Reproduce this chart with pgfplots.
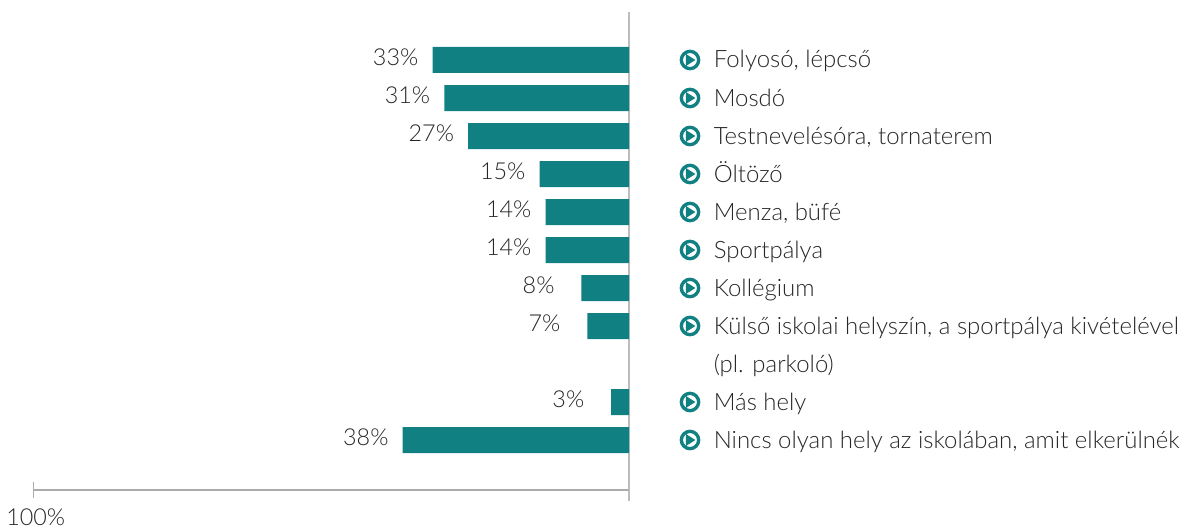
\documentclass[border=0pt]{standalone}
\usepackage{fontspec}
\setmainfont{Lato Light}
\usepackage{pgfplots}
\pgfplotsset{compat=1.18}
\definecolor{teal1}{HTML}{108083}
\definecolor{axg}{HTML}{ABABAB}
\definecolor{axv}{HTML}{BDBDBD}
\definecolor{txt}{HTML}{262626}
\pgfdeclareplotmark{playicon}{%
  \pgfsetfillcolor{white}\pgfsetstrokecolor{teal1}\pgfsetlinewidth{2.5pt}%
  \pgfpathcircle{\pgfpointorigin}{6.5pt}\pgfusepath{stroke,fill}%
  \pgfsetfillcolor{teal1}\pgfsetlinewidth{0pt}%
  \pgfpathmoveto{\pgfpoint{-3.0pt}{-4.5pt}}%
  \pgfpathlineto{\pgfpoint{4.0pt}{0pt}}%
  \pgfpathlineto{\pgfpoint{-3.0pt}{4.5pt}}%
  \pgfpathclose\pgfusepath{fill}%
}
\begin{document}
\begin{tikzpicture}
\useasboundingbox (0,0) rectangle (888pt,397.5pt);
\begin{axis}[
  at={(0,0)},anchor=south west,
  scale only axis,width=888pt,height=397.5pt,
  xmin=-105.63,xmax=93.2,
  ymin=-1.579,ymax=12.368,y dir=reverse,
  axis line style={draw=none},tick style={draw=none},
  xtick=\empty,ytick=\empty,clip=false,
  /pgf/number format/assume math mode=true,
  every node near coord/.append style={font=\fontsize{17.5pt}{20pt}\selectfont,text=txt,anchor=base east,xshift=-10.5pt,yshift=-4.4pt,inner sep=0pt},
]
% axes
\addplot[axv,line width=1.4pt,forget plot] coordinates {(0,-1.263) (0,11.605)};
\addplot[axg,line width=0.8pt,forget plot] coordinates {(-100,11.316) (0,11.316)};
\addplot[axg,line width=0.8pt,forget plot] coordinates {(-100,11.105) (-100,11.526)};
% bars with two-digit values
\addplot[xbar,bar shift=0pt,bar width=19.5pt,fill=teal1,draw=none,forget plot,
  point meta=-x,nodes near coords={\pgfmathprintnumber{\pgfplotspointmeta}\%}] coordinates {
 (-33,0) (-31,1) (-27,2) (-15,3) (-14,4) (-14,5) (-38,10)};
% bars with one-digit values: their labels stand further from the bar
\addplot[xbar,bar shift=0pt,bar width=19.5pt,fill=teal1,draw=none,forget plot,
  point meta=-x,nodes near coords={\pgfmathprintnumber{\pgfplotspointmeta}\%},
  every node near coord/.append style={xshift=-9.5pt}] coordinates {
 (-8,6) (-7,7) (-3,9)};
% icons
\addplot[only marks,mark=playicon,forget plot] coordinates {
 (10.24,0) (10.24,1) (10.24,2) (10.24,3) (10.24,4) (10.24,5) (10.24,6) (10.24,7) (10.24,9) (10.24,10)};
\tikzset{lab/.style={anchor=base west,yshift=-6pt,inner sep=0pt,text=txt,font=\fontsize{17.95pt}{20pt}\selectfont}}
\node[lab] at (axis cs:14.2,0) {Folyosó, lépcső};
\node[lab] at (axis cs:14.2,1) {Mosdó};
\node[lab] at (axis cs:14.2,2) {Testnevelésóra, tornaterem};
\node[lab] at (axis cs:14.2,3) {Öltöző};
\node[lab] at (axis cs:14.2,4) {Menza, büfé};
\node[lab] at (axis cs:14.2,5) {Sportpálya};
\node[lab] at (axis cs:14.2,6) {Kollégium};
\node[lab] at (axis cs:14.2,7) {Külső iskolai helyszín, a sportpálya kivételével};
\node[lab] at (axis cs:14.2,8) {(pl. parkoló)};
\node[lab] at (axis cs:14.2,9) {Más hely};
\node[lab] at (axis cs:14.2,10) {Nincs olyan hely az iskolában, amit elkerülnék};
\node[lab,yshift=6pt,font=\fontsize{17.5pt}{20pt}\selectfont] at (axis cs:-104.6,12.237) {100\%};
\end{axis}
\end{tikzpicture}
\end{document}
